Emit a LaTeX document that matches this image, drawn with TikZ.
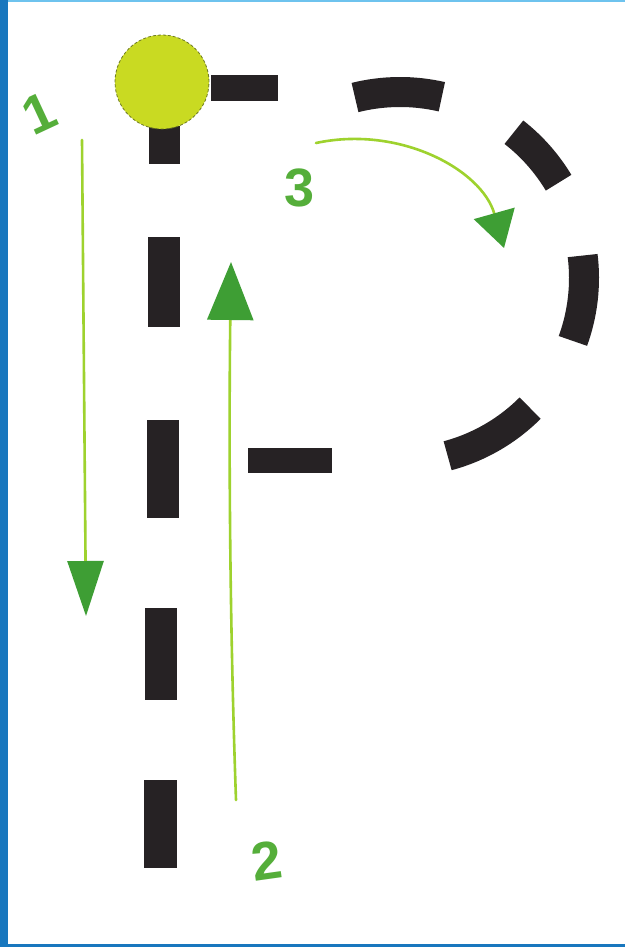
\documentclass[tikz,border=0pt]{standalone}
\usepackage{fontspec}
\setmainfont{Liberation Sans}
\usetikzlibrary{arrows.meta}
\definecolor{dashc}{HTML}{262224}
\definecolor{frameblue}{HTML}{1877BE}
\definecolor{lightblue}{HTML}{6EC3EE}
\definecolor{circfill}{HTML}{C9DA22}
\definecolor{circline}{HTML}{6E7A22}
\definecolor{lineg}{HTML}{9ED22E}
\definecolor{headg}{HTML}{3E9E34}
\definecolor{labg}{HTML}{55AE3A}
\begin{document}
\begin{tikzpicture}[x=1pt,y=-1pt,
  blockdash/.style={fill=dashc},
  arcdash/.style={draw=dashc, line width=30pt},
  garrow/.style={draw=lineg, line width=2.6pt, line cap=round},
  lab/.style={text=labg, inner sep=0pt, font=\fontsize{54}{54}\selectfont\bfseries}]
\useasboundingbox (0,0) rectangle (625,947);
\fill[white] (0,0) rectangle (625,947);
\fill[frameblue] (0,0) rectangle (8,947);
\fill[lightblue] (8,0) rectangle (625,2);
\fill[frameblue] (0,944) rectangle (625,947);
% stem dashes
\fill[blockdash] (149,126) rectangle (180,164);
\fill[blockdash] (148,237) rectangle (180,327);
\fill[blockdash] (147,420) rectangle (179,518);
\fill[blockdash] (145,608) rectangle (177,700);
\fill[blockdash] (144,780) rectangle (177,868);
% straight bowl dashes
\fill[blockdash] (211,75) rectangle (278,101);
\fill[blockdash] (248,448) rectangle (332,473);
% curved bowl dashes
\coordinate (C) at (400,278);
\draw[arcdash] (C) ++(-104:186) arc[start angle=-104, end angle=-77, radius=186];
\draw[arcdash] (C) ++(-52:185) arc[start angle=-52, end angle=-31, radius=185];
\draw[arcdash] (C) ++(-7:184) arc[start angle=-7, end angle=20, radius=184];
\draw[arcdash] (C) ++(45:184) arc[start angle=45, end angle=75, radius=184];
% start point
\node[circle, fill=circfill, draw=circline, densely dashed, line width=0.8pt, minimum size=94pt, inner sep=0pt] (ball) at (162,82) {};
% arrows
\coordinate (a1s) at (82,140);
\coordinate (a1e) at (86,616);
\draw[garrow, -{Triangle[length=55pt,width=36pt,color=headg]}] (a1s) -- (a1e);
\coordinate (a2s) at (236,800);
\coordinate (a2e) at (231,262);
\draw[garrow, -{Triangle[length=58pt,width=46pt,color=headg]}] (a2s) .. controls (229,600) and (229,420) .. (a2e);
\coordinate (a3s) at (316,143);
\coordinate (a3e) at (504,248);
\draw[garrow, -{Triangle[length=36pt,width=42pt,color=headg]}] (a3s) .. controls (400,125) and (482,170) .. (a3e);
% labels
\node[lab, rotate=25] (l1) at (39,113) {1};
\node[lab, rotate=8] (l2) at (267,861) {2};
\node[lab] (l3) at (300,188) {3};
\end{tikzpicture}
\end{document}
